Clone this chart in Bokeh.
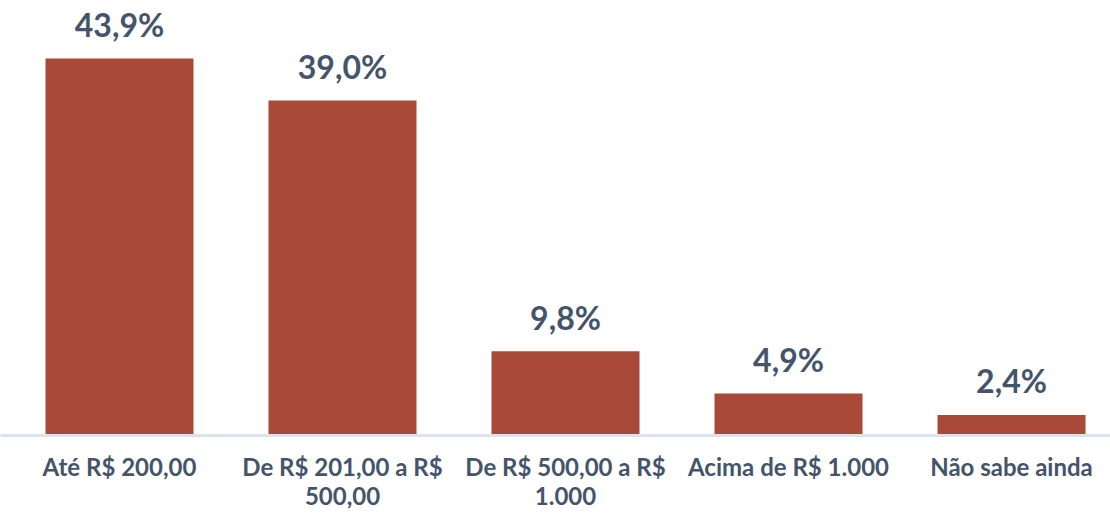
from bokeh.plotting import figure
from bokeh.models import Range1d, FixedTicker, ColumnDataSource
from bokeh.core.properties import value
from bokeh.embed import file_html
from bokeh.resources import INLINE

categories = ["Até R$ 200,00", "De R$ 201,00 a R$\n500,00", "De R$ 500,00 a R$\n1.000",
              "Acima de R$ 1.000", "Não sabe ainda"]
values = [43.9, 39.0, 9.8, 4.9, 2.4]
labels = ["43,9%", "39,0%", "9,8%", "4,9%", "2,4%"]

xs = list(range(len(categories)))
src = ColumnDataSource(dict(x=xs, top=values, lab=labels))

p = figure(width=1110, height=513, output_backend="svg", toolbar_location=None,
           x_range=Range1d(-0.5336, 4.4439), y_range=Range1d(0, 50.65),
           min_border_left=0, min_border_right=0, min_border_top=0, min_border_bottom=78)
p.outline_line_color = None
p.xgrid.visible = False
p.ygrid.visible = False
p.yaxis.visible = False

p.vbar(x="x", top="top", width=0.6637, bottom=0, source=src,
       fill_color="#A94A38", line_color=None)

p.text(x="x", y="top", text="lab", source=src, text_align="center",
       text_baseline="alphabetic", y_offset=-34, text_font=value("Lato"),
       text_font_style="bold", text_font_size="32px", text_color="#44546A")

ax = p.xaxis[0]
ax.ticker = FixedTicker(ticks=xs)
ax.major_label_overrides = {i: c for i, c in zip(xs, categories)}
ax.major_tick_line_color = None
ax.major_tick_out = 0
ax.major_tick_in = 0
ax.minor_tick_line_color = None
ax.major_label_standoff = 16
ax.axis_line_color = "#DCE3EC"
ax.axis_line_width = 3
ax.major_label_text_font = "Lato"
ax.major_label_text_font_style = "bold"
ax.major_label_text_font_size = "24px"
ax.major_label_text_line_height = 1.0
ax.major_label_text_color = "#44546A"

open("out.html", "w").write(file_html(p, INLINE))
